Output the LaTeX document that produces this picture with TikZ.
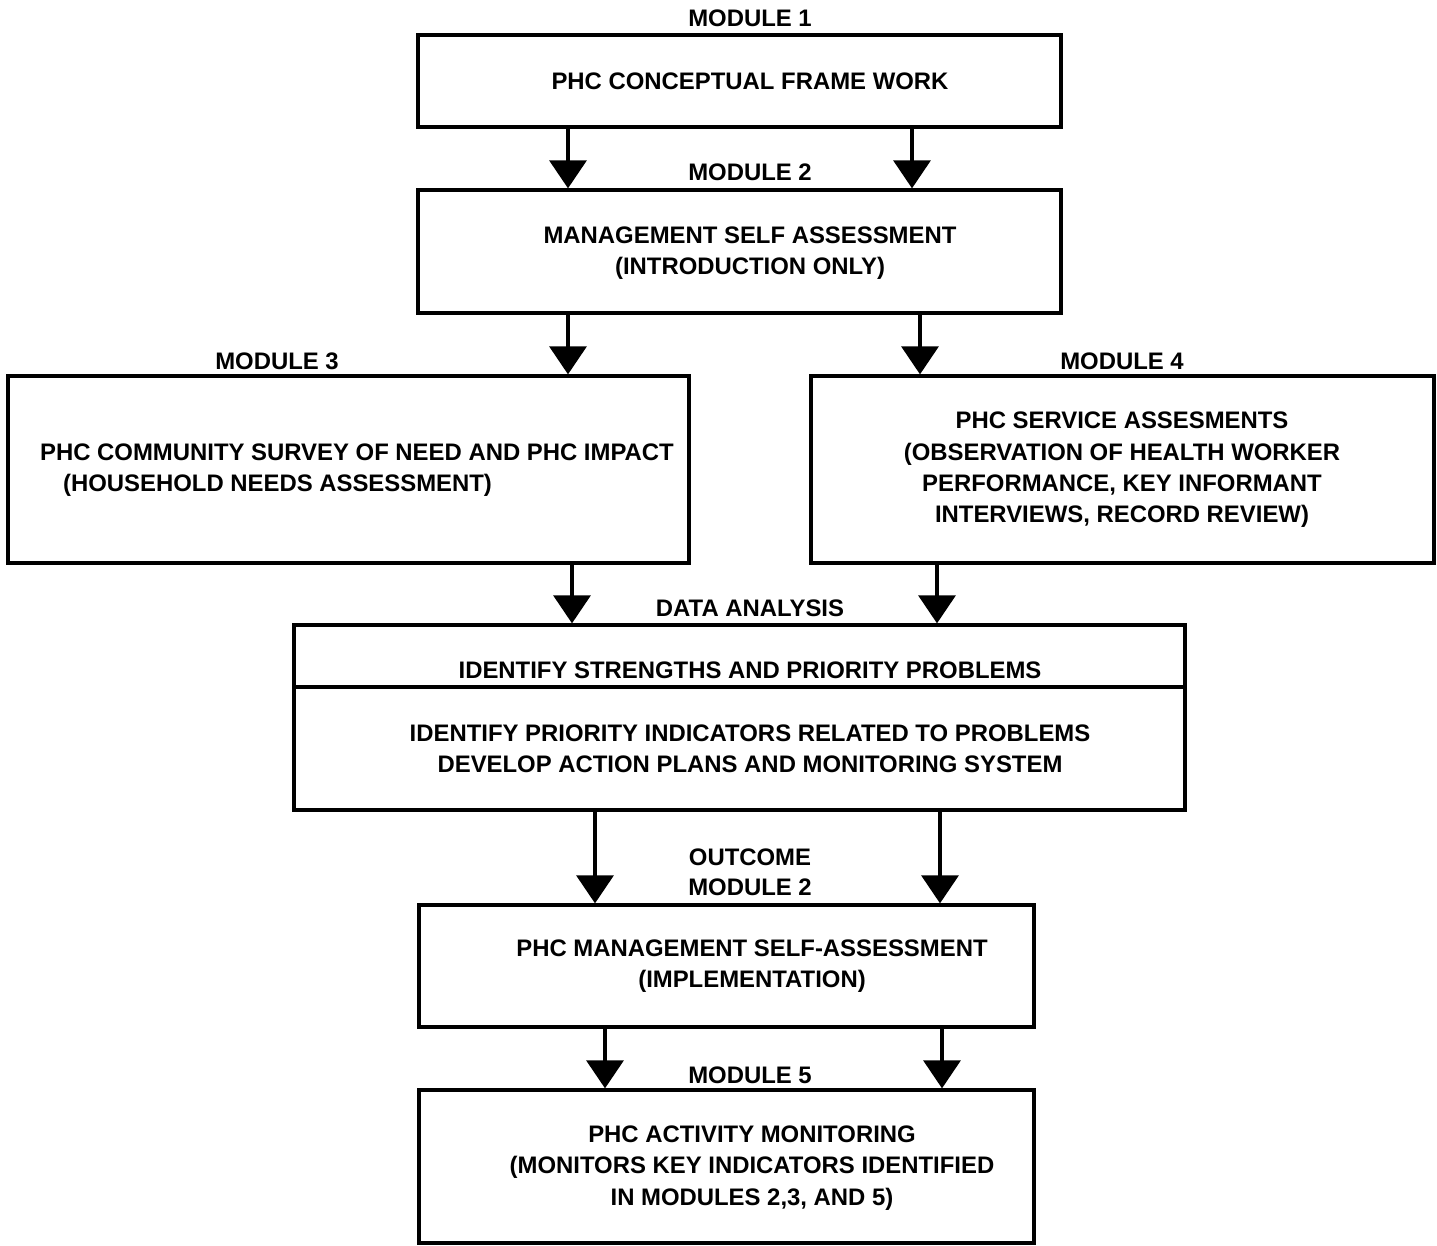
\documentclass[tikz,border=0pt]{standalone}
\usepackage{fontspec}
\setmainfont{Liberation Sans}
\usetikzlibrary{arrows.meta}

\begin{document}
\begin{tikzpicture}[x=0.02cm, y=-0.02cm,
	box/.style={draw, line width=1.9pt, rectangle, inner sep=0pt},
	txt/.style={inner sep=0pt, align=center},
	arr/.style={line width=1.9pt, -{Triangle[width=0.74cm, length=0.56cm]}},
	every node/.style={font=\fontsize{13.6}{17.8}\selectfont\bfseries}]
	\useasboundingbox (0,0) rectangle (1437,1245);

	\node[box, minimum width=12.86cm, minimum height=1.84cm] (m1) at (739.5,81) {};
	\node[box, minimum width=12.86cm, minimum height=2.46cm] (m2) at (739.5,251.5) {};
	\node[box, minimum width=13.62cm, minimum height=3.74cm] (m3) at (348.5,469.5) {};
	\node[box, minimum width=12.46cm, minimum height=3.74cm] (m4) at (1122.5,469.5) {};
	\node[box, minimum width=17.82cm, minimum height=1.24cm] (anaA) at (739.5,656) {};
	\node[box, minimum width=17.82cm, minimum height=2.46cm] (anaB) at (739.5,748.5) {};
	\node[box, minimum width=12.3cm, minimum height=2.44cm] (out) at (726.5,966) {};
	\node[box, minimum width=12.3cm, minimum height=3.06cm] (mon) at (726.5,1166.5) {};

	\node[txt] (m1t) at (750,81) {PHC CONCEPTUAL FRAME WORK};
	\node[txt] (m2t) at (750,253) {MANAGEMENT SELF ASSESSMENT\\(INTRODUCTION ONLY)};
	\node[txt, align=left] (m3t) at (357,470) {PHC COMMUNITY SURVEY OF NEED AND PHC IMPACT\\\hspace*{0.46cm}(HOUSEHOLD NEEDS ASSESSMENT)};
	\node[txt] (m4t) at (1122,470) {PHC SERVICE ASSESMENTS\\(OBSERVATION OF HEALTH WORKER\\PERFORMANCE, KEY INFORMANT\\INTERVIEWS, RECORD REVIEW)};
	\node[txt] (anaAt) at (750,670) {IDENTIFY STRENGTHS AND PRIORITY PROBLEMS};
	\node[txt] (anaBt) at (750,749) {IDENTIFY PRIORITY INDICATORS RELATED TO PROBLEMS\\DEVELOP ACTION PLANS AND MONITORING SYSTEM};
	\node[txt] (outt) at (752,966) {PHC MANAGEMENT SELF-ASSESSMENT\\(IMPLEMENTATION)};
	\node[txt] (mont) at (752,1168) {PHC ACTIVITY MONITORING\\(MONITORS KEY INDICATORS IDENTIFIED\\IN MODULES 2,3, AND 5)};

	\node[txt] (l1) at (750,18) {MODULE 1};
	\node[txt] (l2) at (750,172) {MODULE 2};
	\node[txt] (l3) at (277,361) {MODULE 3};
	\node[txt] (l4) at (1122,361) {MODULE 4};
	\node[txt] (l5) at (750,608) {DATA ANALYSIS};
	\node[txt] (l6) at (750,857) {OUTCOME};
	\node[txt] (l7) at (750,887) {MODULE 2};
	\node[txt] (l8) at (750,1075) {MODULE 5};

	\foreach \src/\dst/\xa in {m1/m2/568, m1/m2/912, m2/m3/568, m2/m4/920, m3/anaA/572, m4/anaA/937, anaB/out/595, anaB/out/940, out/mon/605, out/mon/942} {
		\coordinate (col) at (\xa,0);
		\draw[arr] (\src.south -| col) -- (\dst.north -| col);
	}
\end{tikzpicture}
\end{document}
